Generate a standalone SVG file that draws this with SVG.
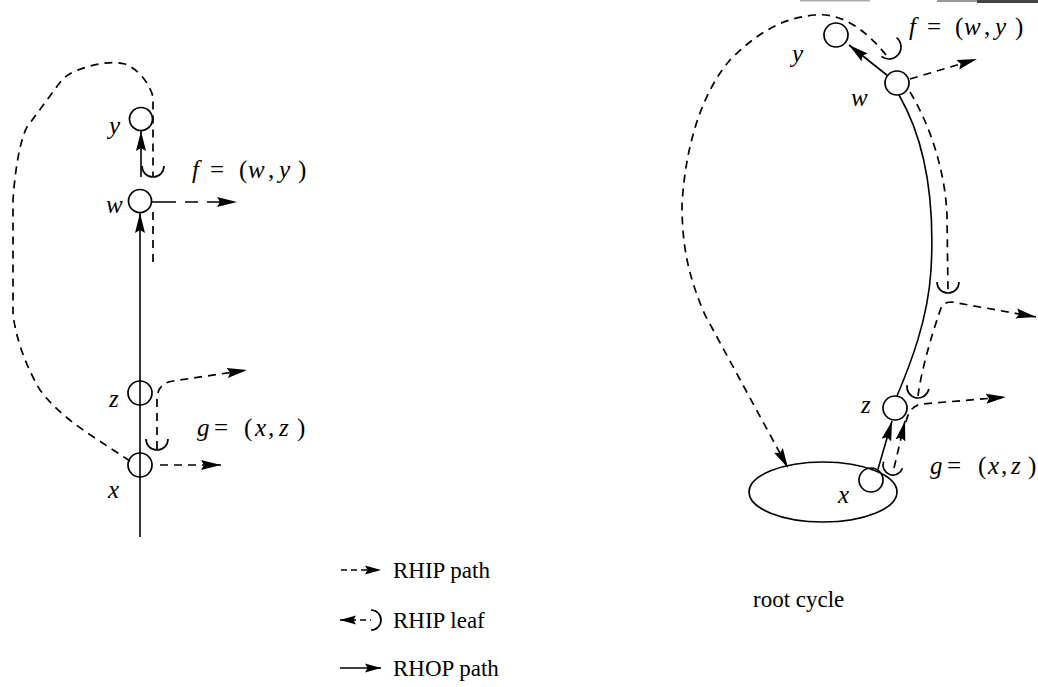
<svg xmlns="http://www.w3.org/2000/svg" width="1038" height="687" viewBox="0 0 1038 687">
  <style>
    .solid { fill: none; stroke: #000; stroke-width: 1.6; }
    .dash { fill: none; stroke: #000; stroke-width: 1.7; stroke-dasharray: 8 6; }
    .sdash { fill: none; stroke: #000; stroke-width: 1.7; stroke-dasharray: 6 4; }
    .node { fill: none; stroke: #000; stroke-width: 1.7; }
    .cup { fill: none; stroke: #000; stroke-width: 1.7; }
    .m { font-family: "Liberation Serif", "Times New Roman", serif; font-size: 25px; fill: #000; }
    .i { font-style: italic; }
    .lg { font-family: "Liberation Serif", "Times New Roman", serif; font-size: 23px; fill: #000; }
  </style>
  <defs>
    <marker id="ah" viewBox="0 0 20 11" refX="20" refY="5.5" markerWidth="20" markerHeight="11" markerUnits="userSpaceOnUse" orient="auto">
      <path d="M0,0.5 L20,5.5 L0,10.5 L3,5.5 z" fill="#000"/>
    </marker>
    <marker id="ahm" viewBox="0 0 16 10" refX="16" refY="5" markerWidth="16" markerHeight="10" markerUnits="userSpaceOnUse" orient="auto">
      <path d="M0,0.5 L16,5 L0,9.5 L2.5,5 z" fill="#000"/>
    </marker>
    <marker id="ahs" viewBox="0 0 16 10" refX="0" refY="5" markerWidth="16" markerHeight="10" markerUnits="userSpaceOnUse" orient="auto">
      <path d="M16,0.5 L0,5 L16,9.5 L13.5,5 z" fill="#000"/>
    </marker>
  </defs>

  <!-- thin marks along the top edge -->
  <rect x="800" y="0" width="70" height="1.5" fill="#aaa"/>
  <rect x="937" y="0" width="40" height="2" fill="#999"/>
  <rect x="977" y="0" width="61" height="3" fill="#444"/>

  <g id="connectors">
    <!-- left tree: RHOP path up the trunk -->
    <path class="solid" d="M140,537 L140,213" marker-end="url(#ah)"/>
    <path class="solid" d="M141,177 L141,131" marker-end="url(#ah)"/>
    <!-- left tree: RHIP loop from x round to the leaf f -->
    <path class="dash" d="M130,461 L95,438 C75,425 55,410 40,390 C25,365 15,335 13,313 L13,200 C15,170 20,140 27,127 L58,85 C62,80 65,76 73,72 C90,65 110,60 125,64 C140,70 150,85 153,97 L153,176"/>
    <path class="cup" d="M142,166 A11,11 0 0 0 164,166"/>
    <path class="dash" d="M153,212 L153,263"/>
    <path class="solid" d="M152,202 L237,202" style="stroke-dasharray: 24 9 13 9" marker-end="url(#ah)"/>
    <!-- left tree: leaf g and its outgoing path -->
    <path class="cup" d="M146,439 A11,11 0 0 0 168,439"/>
    <path class="dash" d="M157,449 L157,400 Q157,383 173,381 L247,370" marker-end="url(#ah)"/>
    <path class="dash" d="M160,465 L221,465" marker-end="url(#ah)"/>

    <!-- right tree: RHOP paths -->
    <path class="solid" d="M888,76 L849,45" marker-end="url(#ah)"/>
    <path class="solid" d="M899,95 C925,140 935,200 931,270 C928,320 910,365 897,396"/>
    <path class="solid" d="M878,469 L892,421" marker-end="url(#ah)"/>
    <!-- right tree: RHIP loop from the root cycle to the leaf f -->
    <path class="dash" d="M886,55 C870,35 845,12 815,15 C780,18 755,35 730,60 C700,95 685,150 682,205 C682,250 690,280 705,315 L788,468" marker-end="url(#ah)"/>
    <path class="cup" transform="rotate(-51 889 47)" d="M877,47 A12,12 0 0 0 901,47"/>
    <path class="dash" d="M910,79 L977,59" marker-end="url(#ah)"/>
    <!-- right tree: path down beside the trunk -->
    <path class="dash" d="M910,92 C930,125 945,170 947,215 L948,292"/>
    <path class="cup" d="M937,282 A11,11 0 0 0 959,282"/>
    <path class="dash" d="M918,396 C922,365 935,325 941,308 Q943,302 952,302 L1036,317" marker-end="url(#ah)"/>
    <path class="cup" transform="rotate(10 918 387)" d="M907,387 A11,11 0 0 0 929,387"/>
    <!-- right tree: leaf g -->
    <path class="cup" transform="rotate(19 893 465)" d="M883,465 A10,10 0 0 0 903,465"/>
    <path class="dash" d="M894,468 L905,421" marker-end="url(#ah)"/>
    <path class="dash" d="M906,422 C908,412 913,405 922,404 L1006,397" marker-end="url(#ah)"/>
  </g>

  <!-- left tree nodes -->
  <g id="L-y"><circle class="node" cx="141" cy="119" r="11.5"/><text class="m i" x="109" y="134">y</text></g>
  <g id="L-w"><circle class="node" cx="140" cy="201" r="11.5"/><text class="m i" x="106" y="213">w</text></g>
  <g id="L-z"><circle class="node" cx="140" cy="393" r="12"/><text class="m i" x="109" y="407">z</text></g>
  <g id="L-x"><circle class="node" cx="140" cy="465" r="12" fill="#fff"/><text class="m i" x="108" y="498">x</text></g>
  <g id="L-f"><text class="m"><tspan class="i" x="192" y="178">f</tspan><tspan x="210">=</tspan><tspan x="239">(</tspan><tspan class="i" x="248">w</tspan><tspan x="268">,</tspan><tspan class="i" x="279">y</tspan><tspan x="298">)</tspan></text></g>
  <g id="L-g"><text class="m"><tspan class="i" x="197" y="436">g</tspan><tspan x="214">=</tspan><tspan x="244">(</tspan><tspan class="i" x="255">x</tspan><tspan x="268">,</tspan><tspan class="i" x="279">z</tspan><tspan x="297">)</tspan></text></g>

  <!-- right tree nodes -->
  <g id="R-root"><ellipse class="node" cx="823" cy="492" rx="74" ry="30"/><text class="lg" x="753" y="607">root cycle</text></g>
  <g id="R-y"><circle class="node" cx="836" cy="35" r="12"/><text class="m i" x="792" y="62">y</text></g>
  <g id="R-w"><circle class="node" cx="897" cy="83" r="12"/><text class="m i" x="851" y="106">w</text></g>
  <g id="R-z"><circle class="node" cx="895" cy="408" r="12"/><text class="m i" x="861" y="413">z</text></g>
  <g id="R-x"><circle class="node" cx="871" cy="480" r="12" fill="#fff"/><text class="m i" x="838" y="503">x</text></g>
  <g id="R-f"><text class="m"><tspan class="i" x="909" y="35">f</tspan><tspan x="927">=</tspan><tspan x="955">(</tspan><tspan class="i" x="964">w</tspan><tspan x="984">,</tspan><tspan class="i" x="995">y</tspan><tspan x="1015">)</tspan></text></g>
  <g id="R-g"><text class="m"><tspan class="i" x="930" y="474">g</tspan><tspan x="947">=</tspan><tspan x="978">(</tspan><tspan class="i" x="988">x</tspan><tspan x="1001">,</tspan><tspan class="i" x="1011">z</tspan><tspan x="1028">)</tspan></text></g>

  <!-- legend -->
  <g id="legend">
    <path class="sdash" d="M341,570 L381,570" marker-end="url(#ahm)"/>
    <text class="lg" x="393" y="578">RHIP path</text>
    <path class="sdash" d="M340,620 L371,620" marker-start="url(#ahs)"/>
    <path class="cup" d="M371,610 A10,10 0 0 1 371,630"/>
    <text class="lg" x="393" y="628">RHIP leaf</text>
    <path class="solid" d="M340,668 L381,668" marker-end="url(#ahm)"/>
    <text class="lg" x="393" y="676">RHOP path</text>
  </g>
</svg>
